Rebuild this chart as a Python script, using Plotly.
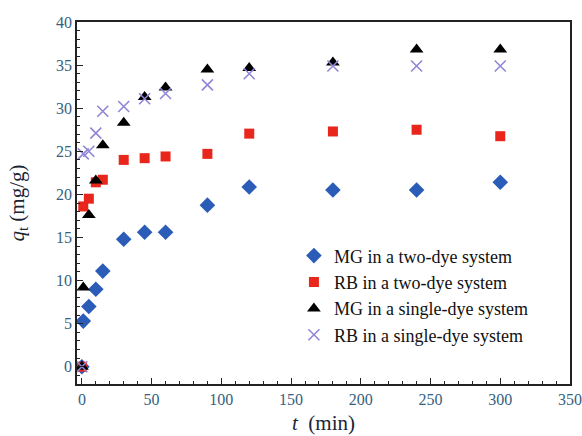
import plotly.graph_objects as go

# Contact time (min)
t_min = [0, 1, 5, 10, 15, 30, 45, 60, 90, 120, 180, 240, 300]

# Adsorbed amount q_t (mg/g) for each system
mg_two_dye = [0, 5.3, 7.0, 9.0, 11.1, 14.8, 15.6, 15.6, 18.75, 20.85, 20.5, 20.5, 21.4]
rb_two_dye = [0, 18.6, 19.5, 21.4, 21.7, 24.0, 24.2, 24.4, 24.7, 27.05, 27.3, 27.5, 26.75]
mg_single_dye = [0, 9.2, 17.6, 21.6, 25.7, 28.3, 31.3, 32.4, 34.5, 34.65, 35.3, 36.8, 36.8]
rb_single_dye = [0, 24.7, 25.0, 27.1, 29.65, 30.2, 31.1, 31.7, 32.7, 34.0, 34.9, 34.9, 34.9]

series_names = [
    "MG in a two-dye system",
    "RB in a two-dye system",
    "MG in a single-dye system",
    "RB in a single-dye system",
]

serif = "Liberation Serif, Times New Roman, serif"
tick_color = "#35617e"

fig = go.Figure()
fig.add_trace(go.Scatter(
    x=t_min, y=mg_two_dye, mode="markers", name=series_names[0],
    marker=dict(symbol="diamond", size=12, color="#2a5cb8"),
))
fig.add_trace(go.Scatter(
    x=t_min, y=rb_two_dye, mode="markers", name=series_names[1],
    marker=dict(symbol="square", size=10, color="#e8261c"),
))
fig.add_trace(go.Scatter(
    x=t_min, y=mg_single_dye, mode="markers", name=series_names[2],
    marker=dict(symbol="triangle-up", size=12, color="#000000"),
))
fig.add_trace(go.Scatter(
    x=t_min, y=rb_single_dye, mode="markers", name=series_names[3],
    marker=dict(symbol="x-thin-open", size=11, color="#8f86d6",
                line=dict(width=1.6, color="#8f86d6")),
))

axis_common = dict(
    showline=True, linecolor="#222222", linewidth=1.5, mirror=True,
    showgrid=False, zeroline=False, automargin=False,
    ticks="inside", ticklen=6, tickwidth=1, tickcolor="#222222",
    tickfont=dict(family=serif, size=16, color=tick_color),
)

fig.update_xaxes(
    range=[-3.5, 350], tick0=0, dtick=50,
    minor=dict(ticks="inside", ticklen=3, dtick=10, tickcolor="#222222"),
    title=dict(text="<i>t</i>  (min)", font=dict(family=serif, size=21, color="#1a2533"),
               standoff=8),
    **axis_common,
)
fig.update_yaxes(
    range=[-2, 40], tick0=0, dtick=5,
    minor=dict(ticks="inside", ticklen=3, dtick=1, tickcolor="#222222"),
    title=dict(text="<i>q</i><sub>t</sub> (mg/g)", font=dict(family=serif, size=21, color="#1a2533"),
               standoff=26),
    **axis_common,
)

fig.update_layout(
    width=582, height=436,
    margin=dict(l=77, r=12, t=22, b=52),
    paper_bgcolor="white", plot_bgcolor="white",
    showlegend=True,
    legend=dict(
        x=0.44, y=0.405, xanchor="left", yanchor="top",
        bgcolor="rgba(255,255,255,0)", borderwidth=0,
        font=dict(family=serif, size=18, color="#111111"),
        tracegroupgap=0, itemsizing="trace",
    ),
)

fig.write_html("out.html")
